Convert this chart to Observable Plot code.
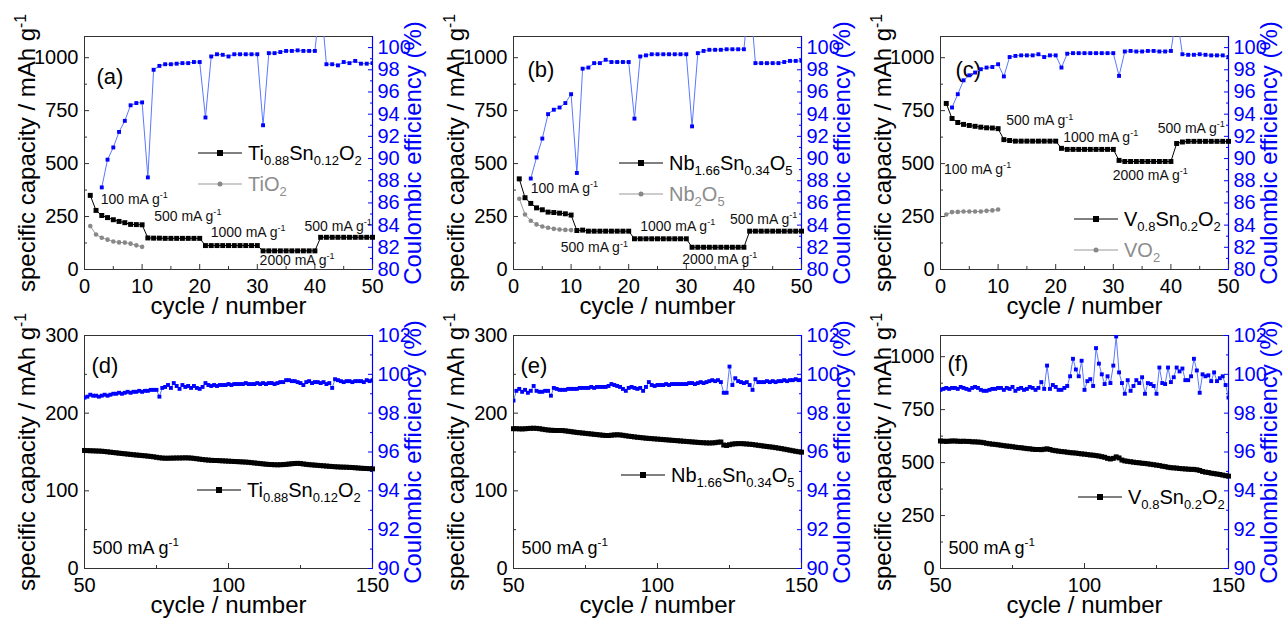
<!DOCTYPE html>
<html><head><meta charset="utf-8">
<script src="https://cdn.jsdelivr.net/npm/d3@7"></script>
<script src="https://cdn.jsdelivr.net/npm/@observablehq/plot@0.6"></script>
<style>
body{margin:0;background:#fff;font-family:"Liberation Sans",Arial,sans-serif;}
#root{position:relative;width:1287px;height:622px;overflow:hidden;background:#fff;}
.panel{position:absolute;width:430px;height:324px;}
.lg{position:absolute;display:flex;align-items:center;font-size:20px;line-height:1;white-space:nowrap;transform:translateY(-50%);}
.lg svg{display:block;margin-right:6px;}
.lg sub{font-size:0.65em;vertical-align:-0.35em;line-height:0;}
.ttl{position:absolute;font-size:24px;line-height:1;white-space:nowrap;transform:translate(-50%,-50%) rotate(-90deg);}
.ttl sup{font-size:0.65em;vertical-align:0.55em;line-height:0;}
</style></head><body><div id="root"></div>
<script>
// ---------- data: rate tests (cycles 1-50) ----------
const cyclesRate = d3.range(1, 51);
const capTiSn = [350,279,255,245,235,227,221,213,212,211, 149,148,148,147,147,147,147,147,147,147, 113,113,113,113,113,113,113,113,113,113, 88,88,88,88,88,88,88,88,88,88, 152,152,152,152,152,152,152,152,152,152];
const capTiO2 = [205,165,150,141,132,128,127,122,114,107];
const ceTiSnStart = 3;
const ceTiSn = [87.4,89.9,91.0,92.4,93.4,94.8,95.0,95.06, 88.3, 98.0,98.35,98.5,98.5,98.55,98.6,98.6,98.7,98.7, 93.7, 99.2,99.4,99.35,99.2,99.4,99.4,99.4,99.4,99.4, 93.0, 99.5,99.5,99.6,99.7,99.7,99.75,99.7,99.7,99.7, 104.5, 98.5,98.5,98.4,98.7,98.6,98.8,98.55,98.55,98.6];

const capNbSn = [428,339,312,291,282,271,269,266,263,257, 184,186,181,181,181,181,181,181,181,181, 145,145,145,145,145,145,145,145,145,145, 105,105,105,105,105,105,105,105,105,105, 181,181,181,181,181,181,181,181,181,181];
const capNb2O5 = [334,260,230,213,203,197,192,189,187,186];
const ceNbSnStart = 3;
const ceNbSn = [88.2,90.1,91.8,94.0,94.4,94.6,95.0,95.8, 88.7, 98.1,98.2,98.6,98.6,98.9,98.7,98.7,98.7,98.7, 93.6, 99.2,99.3,99.4,99.4,99.4,99.4,99.4,99.4,99.4, 92.9, 99.5,99.7,99.8,99.8,99.8,99.85,99.85,99.85,99.85, 105, 98.6,98.6,98.6,98.6,98.6,98.7,98.8,98.8,98.8];

const capVSn = [784,713,694,685,680,676,672,669,668,665, 613,609,606,606,606,606,606,606,606,606, 572,567,567,567,567,567,567,567,567,567, 515,510,510,510,510,510,510,510,510,510, 595,602,605,605,605,605,605,605,605,605];
const capVO2 = [260,271,272,274,274,274,274,277,279,283];
const ceVSnStart = 2;
const ceVSn = [94.6,95.8,97.05,97.5,97.75,98.05,98.2,98.25,98.5, 97.4, 99.15,99.25,99.3,99.3,99.3,99.4,99.15,99.3,99.3, 98.2, 99.45,99.5,99.5,99.5,99.5,99.5,99.5,99.5,99.5, 97.45, 99.65,99.7,99.65,99.65,99.7,99.7,99.65,99.65,99.7, 103, 99.4,99.35,99.35,99.4,99.35,99.3,99.3,99.3,99.15];

// ---------- data: long cycling (cycles 50-150) ----------
const cyclesLong = d3.range(50, 151);
const capTiSnLong = [152,151.8,151.6,151.5,151.3,151.2,151.0,150.6,150.2,149.8, 149.3,148.9,148.5,148.1,147.7,147.3,146.9,146.5,146.1,145.8, 145.4,145.1,144.7,144.3,143.8,143.2,142.6,142.2,142.0,142.0, 142.1,142.2,142.3,142.3,142.4,142.5,142.4,142.2,141.8,141.3, 140.8,140.3,139.9,139.6,139.3,139.1,139.0,138.8,138.6,138.4, 138.2,138.0,137.8,137.6,137.4,137.2,137.0,136.7,136.3,135.9, 135.5,135.1,134.7,134.3,134.0,133.8,133.6,133.5,133.6,133.8, 134.1,134.5,134.9,135.2,135.4,135.1,134.6,134.1,133.7,133.4, 133.1,132.8,132.5,132.2,131.9,131.6,131.3,131.0,130.8,130.6, 130.5,130.4,130.2,130.0,129.7,129.4,129.1,128.9,128.7,128.5, 128.3];
const ceTiSnLong = [98.8,98.85,98.95,98.9,98.9,98.85,98.9,98.95,98.9,98.95, 99.0,99.0,99.05,99.0,99.05,99.1,99.05,99.1,99.1,99.15, 99.1,99.15,99.15,99.2,99.2,99.2,98.85,99.3,99.35,99.45, 99.3,99.55,99.4,99.25,99.45,99.35,99.4,99.3,99.4,99.3, 99.25,99.35,99.55,99.45,99.4,99.45,99.4,99.45,99.45,99.45, 99.5,99.45,99.5,99.5,99.5,99.5,99.55,99.5,99.5,99.5, 99.55,99.5,99.55,99.5,99.55,99.55,99.5,99.55,99.6,99.6, 99.7,99.7,99.65,99.65,99.6,99.55,99.45,99.6,99.65,99.55, 99.6,99.6,99.55,99.6,99.5,99.55,99.3,99.75,99.7,99.65, 99.6,99.65,99.65,99.6,99.65,99.65,99.65,99.6,99.7,99.65, 99.7];

const capNbSnLong = [180,180,179.8,179.7,179.9,180.2,180.5,180.6,180.4,180.0, 179.4,178.8,178.3,178.0,177.8,177.7,177.7,177.6,177.2,176.7, 176.2,175.7,175.2,174.8,174.4,174.0,173.6,173.2,172.8,172.4, 172.0,171.6,171.3,171.2,171.6,172.0,172.2,172.0,171.5,170.9, 170.4,169.9,169.4,169.0,168.6,168.2,167.8,167.5,167.2,166.9, 166.6,166.3,166.0,165.7,165.4,165.1,164.8,164.5,164.2,163.9, 163.6,163.3,163.0,162.7,162.4,162.1,161.9,161.7,161.6,161.7, 162.0,162.6,162.9,159.0,158.4,159.4,160.2,160.6,160.8,160.8, 160.6,160.3,160.0,159.6,159.1,158.6,158.1,157.6,157.1,156.6, 156.2,155.6,155.0,154.4,153.7,153.0,152.3,151.6,150.9,150.3, 149.8];
const ceNbSnLong = [98.65,99.15,99.25,99.1,99.2,99.05,99.15,99.4,99.15,99.1, 99.1,99.15,99.15,98.9,99.3,99.25,99.2,99.2,99.2,99.25, 99.25,99.25,99.25,99.3,99.3,99.3,99.3,99.35,99.3,99.35, 99.35,99.35,99.35,99.4,99.5,99.45,99.4,99.35,99.25,99.15, 99.3,99.35,99.3,99.25,99.3,99.15,99.35,99.6,99.45,99.4, 99.45,99.45,99.45,99.5,99.45,99.5,99.5,99.5,99.5,99.5, 99.5,99.55,99.55,99.5,99.55,99.6,99.55,99.6,99.65,99.7, 99.65,99.7,99.6,99.05,99.05,100.4,99.45,99.8,99.65,99.6, 99.55,99.6,99.45,99.2,99.75,99.6,99.6,99.6,99.65,99.6, 99.65,99.6,99.65,99.65,99.7,99.65,99.7,99.7,99.75,99.7, 99.7];

const capVSnLong = [602,601,600,601,602,602,601,600,601,600, 600,598,598,597,596,594,591,589,587,586, 584,582,580,578,577,575,573,571,570,568, 566,565,563,562,562,561,563,565,562,558, 556,554,552,551,549,547,546,545,543,541, 540,538,536,535,533,531,528,525,520,517, 520,527,522,512,508,506,504,502,500,499, 497,496,494,492,490,488,486,483,481,478, 476,475,474,472,471,470,469,468,468,466, 463,458,455,453,450,448,446,444,441,438, 436];
const ceVSnLong = [99.2,99.25,99.3,99.25,99.3,99.3,99.25,99.35,99.3,99.25, 99.2,99.3,99.35,99.3,99.2,99.15,99.15,99.2,99.25,99.25, 99.3,99.3,99.2,99.3,99.25,99.35,99.15,99.25,99.3,99.2, 99.25,99.35,99.3,99.2,99.3,99.6,99.25,100.45,99.25,99.45, 99.35,99.2,99.2,99.3,99.4,99.9,100.8,100.25,99.9,100.7, 99.2,99.65,99.75,99.4,101.35,100.55,100.0,99.5,99.9,99.55, 100.45,101.95,100.1,99.55,99.0,99.7,99.15,99.4,99.7,99.55, 99.85,99.0,99.55,99.5,99.4,99.0,100.35,99.55,99.5,100.35, 99.6,99.85,100.35,100.15,100.3,99.7,99.7,99.9,100.8,100.2, 99.05,100.0,99.9,99.95,99.65,100.1,99.65,99.8,99.9,99.45, 98.8];

// ---------- tick labels ----------
const xTicksRate = [0,10,20,30,40,50], xMinorRate = [5,15,25,35,45];
const xTicksLong = [50,100,150], xMinorLong = [75,125];
const capTicks1100 = [0,250,500,750,1000], capMinor1100 = [125,375,625,875];
const capTicks300 = [0,100,200,300], capMinor300 = [50,150,250];
const ceTicksRate = [80,82,84,86,88,90,92,94,96,98,100], ceMinorRate = [81,83,85,87,89,91,93,95,97,99];
const ceTicksLong = [90,92,94,96,98,100,102], ceMinorLong = [91,93,95,97,99,101];

// ---------- annotations ----------
const annA = [{cycle:2.8,cap:330,label:"100 mA g^{-1}"},{cycle:12.1,cap:250,label:"500 mA g^{-1}"},{cycle:21.9,cap:173,label:"1000 mA g^{-1}"},{cycle:30.4,cap:42,label:"2000 mA g^{-1}"},{cycle:38.2,cap:203,label:"500 mA g^{-1}"}];
const annB = [{cycle:3.0,cap:381,label:"100 mA g^{-1}"},{cycle:8.2,cap:102,label:"500 mA g^{-1}"},{cycle:22.0,cap:205,label:"1000 mA g^{-1}"},{cycle:29.3,cap:47,label:"2000 mA g^{-1}"},{cycle:37.6,cap:236,label:"500 mA g^{-1}"}];
const annC = [{cycle:0.6,cap:472,label:"100 mA g^{-1}"},{cycle:11.4,cap:701,label:"500 mA g^{-1}"},{cycle:21.3,cap:625,label:"1000 mA g^{-1}"},{cycle:29.9,cap:446,label:"2000 mA g^{-1}"},{cycle:37.7,cap:665,label:"500 mA g^{-1}"}];

// ---------- helpers ----------
const BLUE = "#0000ff";
const table = (cycles, values) => values.map((v, i) => ({cycle: cycles[i], value: v}));
const tableFrom = (start, values) => values.map((v, i) => ({cycle: start + i, value: v}));

function richify(root) {
  const ns = "http://www.w3.org/2000/svg";
  root.querySelectorAll("text").forEach(t => {
    const s = t.textContent;
    if (!/[\^_]\{/.test(s)) return;
    const fs = parseFloat(getComputedStyle(t).fontSize) || 14;
    while (t.firstChild) t.removeChild(t.firstChild);
    let shift = 0, last = 0, m;
    const re = /([\^_])\{([^}]*)\}/g;
    const add = (str, off, small) => {
      const ts = document.createElementNS(ns, "tspan");
      ts.textContent = str;
      ts.setAttribute("dy", (off - shift).toFixed(2));
      shift = off;
      if (small) ts.setAttribute("font-size", (fs * 0.65).toFixed(2));
      t.appendChild(ts);
    };
    while ((m = re.exec(s))) {
      if (m.index > last) add(s.slice(last, m.index), 0, false);
      add(m[2], m[1] === "^" ? -0.42 * fs : 0.25 * fs, true);
      last = re.lastIndex;
    }
    if (last < s.length) add(s.slice(last), 0, false);
  });
}

const FRAME = {left: 84, right: 372, top: 36, bottom: 269};

function makePanel(cfg) {
  const [y0, y1] = cfg.yDomain, [c0, c1] = cfg.ceDomain;
  const toLeft = v => y0 + (v - c0) / (c1 - c0) * (y1 - y0);
  const fromLeft = v => c0 + (v - y0) / (y1 - y0) * (c1 - c0);
  const marks = [
    Plot.frame({stroke: "#333", strokeWidth: 1}),
    Plot.ruleX([cfg.xDomain[1]], {stroke: BLUE, strokeWidth: 1.2}),
    Plot.axisX({ticks: cfg.xTicks, tickSize: -5, tickPadding: 14, fontSize: 20, label: null, stroke: "#333", tickFormat: d => String(d)}),
    Plot.axisX({ticks: cfg.xMinor, tickSize: -3, tickFormat: () => "", label: null, stroke: "#333"}),
    Plot.axisY({ticks: cfg.yTicks, tickSize: -5, tickPadding: 11, fontSize: 20, label: null, stroke: "#333", tickFormat: d => String(d)}),
    Plot.axisY({ticks: cfg.yMinor, tickSize: -3, tickFormat: () => "", label: null, stroke: "#333"}),
    Plot.axisY(cfg.ceTicks.map(toLeft), {anchor: "right", tickSize: -5, tickPadding: 10, fontSize: 20, color: BLUE, label: null, tickFormat: d => String(Math.round(fromLeft(d)))}),
    Plot.axisY(cfg.ceMinor.map(toLeft), {anchor: "right", tickSize: -3, color: BLUE, label: null, tickFormat: () => ""}),
    Plot.text(["cycle / number"], {frameAnchor: "bottom", dy: 44, fontSize: 24, text: d => d, fill: "#000"}),
    Plot.text([cfg.label], {frameAnchor: "top-left", dx: cfg.labelPos[0], dy: cfg.labelPos[1], textAnchor: "start", fontSize: 22, text: d => d, fill: "#000"})
  ];
  for (const s of cfg.series) {
    marks.push(Plot.line(s.data, {x: "cycle", y: "value", stroke: s.line, strokeWidth: 1}));
    marks.push(Plot.dot(s.data, {x: "cycle", y: "value", symbol: s.symbol, r: s.r, fill: s.color, stroke: "none"}));
  }
  marks.push(Plot.line(cfg.ce, {x: "cycle", y: d => toLeft(d.value), stroke: "#5a78ff", strokeWidth: 1, clip: true}));
  marks.push(Plot.dot(cfg.ce, {x: "cycle", y: d => toLeft(d.value), symbol: "square", r: cfg.ceR, fill: BLUE, stroke: "none", clip: true}));
  if (cfg.ann) marks.push(Plot.text(cfg.ann, {x: "cycle", y: "cap", text: "label", textAnchor: "start", fontSize: 14, fill: "#111"}));
  if (cfg.note) marks.push(Plot.text([cfg.note], {frameAnchor: "bottom-left", dx: 8, dy: -15, textAnchor: "start", fontSize: 18, text: d => d, fill: "#000"}));

  const svg = Plot.plot({
    width: 430, height: 324,
    marginLeft: FRAME.left, marginRight: 430 - FRAME.right, marginTop: FRAME.top, marginBottom: 324 - FRAME.bottom,
    x: {domain: cfg.xDomain},
    y: {domain: cfg.yDomain},
    style: {background: "none", overflow: "visible", fontFamily: "'Liberation Sans', Arial, sans-serif", fontSize: "20px", color: "#000"},
    marks
  });
  const wrap = document.createElement("div");
  wrap.className = "panel";
  wrap.style.left = cfg.left + "px";
  wrap.style.top = cfg.top + "px";
  wrap.appendChild(svg);

  // rotated axis titles
  const midY = (FRAME.top + FRAME.bottom) / 2;
  const addTitle = (html, cx, color) => {
    const t = document.createElement("div");
    t.className = "ttl";
    t.style.left = cx + "px";
    t.style.top = midY + "px";
    t.style.color = color;
    t.innerHTML = html;
    wrap.appendChild(t);
  };
  addTitle("specific capacity / mAh g<sup>-1</sup>", 27, "#000");
  addTitle("Coulombic efficiency (%)", FRAME.right + 41, BLUE);

  cfg.legend.forEach((e, i) => {
    const row = document.createElement("div");
    row.className = "lg";
    row.style.left = cfg.legendPos[0] + "px";
    row.style.top = (cfg.legendPos[1] + i * cfg.legendGap) + "px";
    row.style.color = e.text;
    const mk = e.symbol === "square"
      ? `<rect x="19" y="3" width="6" height="6" fill="${e.color}"/>`
      : `<circle cx="22" cy="6" r="2.5" fill="${e.color}"/>`;
    row.innerHTML = `<svg width="44" height="12"><line x1="0" x2="44" y1="6" y2="6" stroke="${e.line}" stroke-width="1"/>${mk}</svg><span>${e.name}</span>`;
    wrap.appendChild(row);
  });
  document.getElementById("root").appendChild(wrap);
  richify(svg);
}

const blackSeries = data => ({data, color: "#000", line: "#000", symbol: "square", r: 2.8});
const greySeries = data => ({data, color: "#888", line: "#999", symbol: "circle", r: 2.3});
const blackLg = name => ({name, color: "#000", line: "#000", text: "#000", symbol: "square"});
const greyLg = name => ({name, color: "#888", line: "#999", text: "#8c8c8c", symbol: "circle"});

const rateCommon = {xDomain: [0, 50], xTicks: xTicksRate, xMinor: xMinorRate, yDomain: [0, 1100], yTicks: capTicks1100, yMinor: capMinor1100, ceDomain: [80, 101], ceTicks: ceTicksRate, ceMinor: ceMinorRate, ceR: 2.2, top: 0};
const longCommon = {xDomain: [50, 150], xTicks: xTicksLong, xMinor: xMinorLong, ceDomain: [90, 102], ceTicks: ceTicksLong, ceMinor: ceMinorLong, ceR: 2.2, top: 299, note: "500 mA g^{-1}", legendGap: 0};

makePanel({...rateCommon, left: 0, label: "(a)", labelPos: [12, 32],
  series: [blackSeries(table(cyclesRate, capTiSn)), greySeries(table(cyclesRate, capTiO2))],
  ce: tableFrom(ceTiSnStart, ceTiSn), ann: annA,
  legend: [blackLg("Ti<sub>0.88</sub>Sn<sub>0.12</sub>O<sub>2</sub>"), greyLg("TiO<sub>2</sub>")], legendPos: [198, 153], legendGap: 31});
makePanel({...rateCommon, left: 429, label: "(b)", labelPos: [14, 25],
  series: [blackSeries(table(cyclesRate, capNbSn)), greySeries(table(cyclesRate, capNb2O5))],
  ce: tableFrom(ceNbSnStart, ceNbSn), ann: annB,
  legend: [blackLg("Nb<sub>1.66</sub>Sn<sub>0.34</sub>O<sub>5</sub>"), greyLg("Nb<sub>2</sub>O<sub>5</sub>")], legendPos: [190, 163], legendGap: 31});
makePanel({...rateCommon, left: 856, label: "(c)", labelPos: [15, 25],
  series: [blackSeries(table(cyclesRate, capVSn)), greySeries(table(cyclesRate, capVO2))],
  ce: tableFrom(ceVSnStart, ceVSn), ann: annC,
  legend: [blackLg("V<sub>0.8</sub>Sn<sub>0.2</sub>O<sub>2</sub>"), greyLg("VO<sub>2</sub>")], legendPos: [218, 219], legendGap: 31});

makePanel({...longCommon, left: 0, label: "(d)", labelPos: [7, 22], yDomain: [0, 300], yTicks: capTicks300, yMinor: capMinor300,
  series: [blackSeries(table(cyclesLong, capTiSnLong))], ce: table(cyclesLong, ceTiSnLong),
  legend: [blackLg("Ti<sub>0.88</sub>Sn<sub>0.12</sub>O<sub>2</sub>")], legendPos: [197, 191]});
makePanel({...longCommon, left: 429, label: "(e)", labelPos: [7, 22], yDomain: [0, 300], yTicks: capTicks300, yMinor: capMinor300,
  series: [blackSeries(table(cyclesLong, capNbSnLong))], ce: table(cyclesLong, ceNbSnLong),
  legend: [blackLg("Nb<sub>1.66</sub>Sn<sub>0.34</sub>O<sub>5</sub>")], legendPos: [192, 176]});
makePanel({...longCommon, left: 856, label: "(f)", labelPos: [7, 20], yDomain: [0, 1100], yTicks: capTicks1100, yMinor: capMinor1100,
  series: [blackSeries(table(cyclesLong, capVSnLong))], ce: table(cyclesLong, ceVSnLong),
  legend: [blackLg("V<sub>0.8</sub>Sn<sub>0.2</sub>O<sub>2</sub>")], legendPos: [222, 198]});
</script></body></html>
